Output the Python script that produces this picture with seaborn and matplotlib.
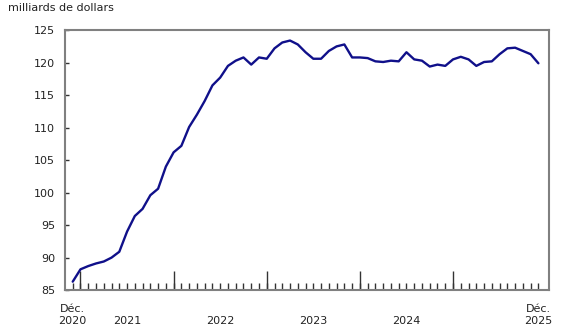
import matplotlib
matplotlib.use("Agg")
import matplotlib.pyplot as plt
import seaborn as sns
import pandas as pd
import numpy as np

# Monthly values, Dec 2020 .. Dec 2025 (billions of dollars)
values = [
    86.3, 88.2, 88.7, 89.1, 89.4, 90.0, 90.9, 94.0, 96.4, 97.5, 99.6, 100.6,
    104.0, 106.2, 107.2, 110.1, 112.0, 114.1, 116.5, 117.7, 119.5, 120.3, 120.8, 119.7,
    120.8, 120.6, 122.2, 123.1, 123.4, 122.8, 121.6, 120.6, 120.6, 121.8, 122.5, 122.8,
    120.8, 120.8, 120.7, 120.2, 120.1, 120.3, 120.2, 121.6, 120.5, 120.3, 119.4, 119.7,
    119.5, 120.5, 120.9, 120.5, 119.5, 120.1, 120.2, 121.3, 122.2, 122.3, 121.8, 121.3,
    119.9,
]
months = list(range(len(values)))
year_starts = [1, 13, 25, 37, 49]          # January positions (major ticks)
label_pos = [0, 7, 19, 31, 43, 60]
labels = ["Déc.\n2020", "\n2021", "\n2022", "\n2023", "\n2024", "Déc.\n2025"]
yticks = [85, 90, 95, 100, 105, 110, 115, 120, 125]

sns.set_theme(style="white")
plt.rcParams['font.family'] = ['DejaVu Sans']

df = pd.DataFrame({"mois": months, "valeur": values})

fig = plt.figure(figsize=(5.8, 3.35), dpi=100)
ax = fig.add_axes([0.112, 0.134, 0.835, 0.776])

sns.lineplot(data=df, x="mois", y="valeur", ax=ax, color="#10108a", linewidth=1.7)

ax.set_xlim(-1, 61.4)
ax.set_ylim(85, 125)
ax.set_xlabel("")
ax.set_ylabel("")

for s in ax.spines.values():
    s.set_color("#808080")
    s.set_linewidth(1.5)
    s.set_visible(True)

ax.set_yticks(yticks)
ax.set_yticklabels([str(v) for v in yticks])
ax.tick_params(axis="y", direction="in", length=3, width=1, color="#333333",
               labelsize=8, pad=7, left=True, labelcolor="#222222")

# label ticks (no marks) and monthly minor ticks
ax.xaxis.remove_overlapping_locs = False
ax.set_xticks(label_pos)
ax.set_xticklabels(labels)
ax.set_xticks(months, minor=True)
ax.tick_params(axis="x", which="major", length=0, labelsize=8, pad=10, labelcolor="#222222")
ax.tick_params(axis="x", which="minor", direction="in", length=5, width=1,
               color="#333333", bottom=True)

# longer year-boundary ticks
sec = ax.secondary_xaxis("bottom")
sec.set_xticks(year_starts)
sec.set_xticklabels([""] * len(year_starts))
sec.tick_params(axis="x", direction="in", length=14, width=1, color="#333333")
sec.spines["bottom"].set_visible(False)

fig.text(8 / 580, 1 - 8 / 335, "milliards de dollars", fontsize=8,
         ha="left", va="center", color="#222222")

fig.savefig("out.png", dpi=100)
